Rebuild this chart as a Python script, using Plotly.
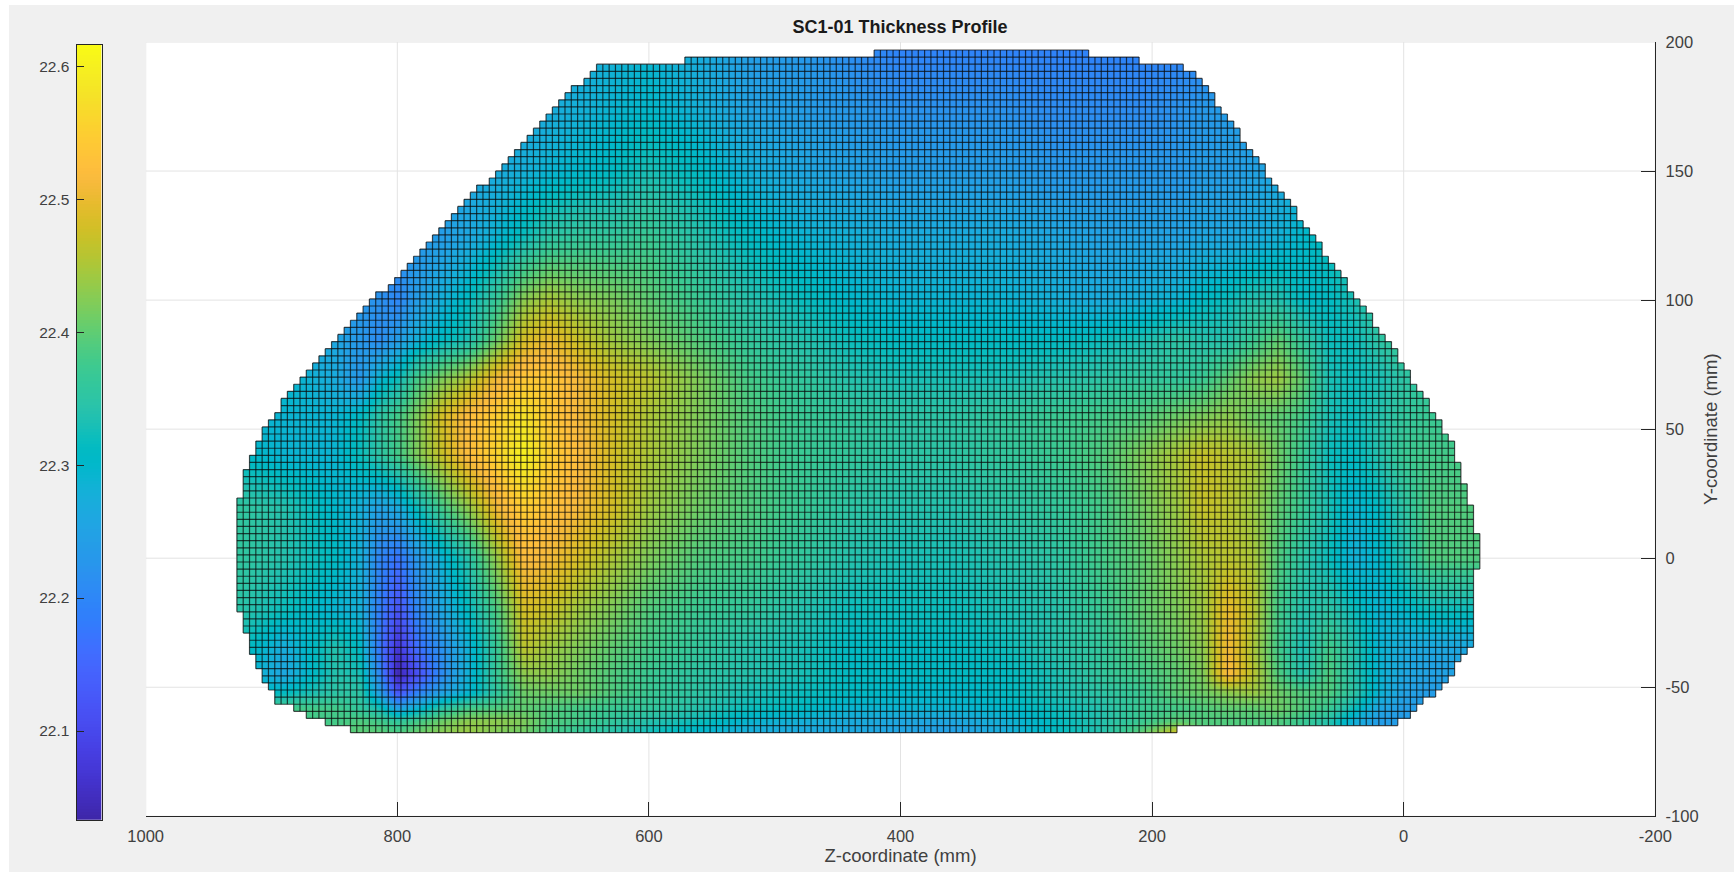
import plotly.graph_objects as go

# ---------- data ----------
x_nodes = [930, 890, 850, 830, 815, 800, 785, 765, 745, 720, 700, 680, 655, 630, 600, 560, 520, 480, 440, 400,
           360, 320, 280, 240, 210, 180, 160, 140, 120, 100, 80, 60, 40, 20, 0, -20, -40, -65]
y_nodes = [200, 175, 150, 125, 100, 85, 70, 55, 40, 20, 0, -20, -35, -45, -52, -58, -63, -68]

z_200 = [22.27,22.27,22.27,22.27,22.27,22.27,22.27,22.27,22.27,22.26,22.26,22.26,22.27,22.28,22.29,22.27,22.24,22.23,22.21,22.19,22.19,22.19,22.19,22.19,22.19,22.19,22.20,22.21,22.22,22.24,22.26,22.28,22.30,22.31,22.31,22.31,22.31,22.31]
z_175 = [22.25,22.25,22.25,22.25,22.25,22.25,22.25,22.25,22.25,22.26,22.26,22.27,22.28,22.29,22.30,22.28,22.25,22.24,22.23,22.22,22.22,22.22,22.21,22.21,22.21,22.22,22.23,22.24,22.24,22.25,22.27,22.29,22.31,22.31,22.31,22.31,22.31,22.31]
z_150 = [22.25,22.25,22.25,22.25,22.25,22.25,22.25,22.25,22.26,22.27,22.28,22.29,22.30,22.31,22.33,22.31,22.28,22.26,22.25,22.24,22.24,22.24,22.23,22.23,22.23,22.23,22.24,22.24,22.25,22.26,22.28,22.31,22.33,22.33,22.33,22.33,22.33,22.33]
z_125 = [22.23,22.23,22.23,22.23,22.23,22.23,22.23,22.24,22.26,22.29,22.32,22.35,22.36,22.36,22.37,22.34,22.31,22.29,22.28,22.27,22.27,22.27,22.26,22.25,22.25,22.25,22.26,22.26,22.27,22.28,22.30,22.32,22.35,22.35,22.35,22.35,22.35,22.35]
z_100 = [22.24,22.24,22.24,22.23,22.22,22.20,22.24,22.28,22.31,22.37,22.43,22.45,22.43,22.42,22.40,22.37,22.34,22.32,22.30,22.29,22.29,22.29,22.28,22.27,22.28,22.29,22.31,22.32,22.34,22.34,22.31,22.31,22.33,22.36,22.36,22.36,22.36,22.36]
z_85  = [22.27,22.27,22.26,22.23,22.21,22.24,22.28,22.31,22.33,22.41,22.48,22.50,22.47,22.44,22.42,22.39,22.36,22.34,22.32,22.31,22.31,22.31,22.31,22.32,22.33,22.35,22.34,22.34,22.37,22.40,22.36,22.32,22.32,22.35,22.37,22.37,22.37,22.37]
z_70  = [22.30,22.30,22.27,22.23,22.29,22.32,22.38,22.42,22.45,22.51,22.54,22.54,22.51,22.48,22.46,22.42,22.38,22.36,22.34,22.33,22.33,22.33,22.34,22.35,22.36,22.36,22.37,22.40,22.43,22.44,22.40,22.33,22.32,22.33,22.35,22.36,22.36,22.36]
z_55  = [22.29,22.29,22.29,22.31,22.35,22.38,22.42,22.48,22.52,22.55,22.58,22.54,22.51,22.48,22.45,22.42,22.39,22.37,22.36,22.35,22.35,22.36,22.37,22.38,22.39,22.41,22.42,22.43,22.41,22.40,22.38,22.33,22.32,22.34,22.36,22.37,22.37,22.37]
z_40  = [22.31,22.29,22.29,22.32,22.35,22.38,22.42,22.47,22.52,22.56,22.60,22.55,22.52,22.48,22.45,22.42,22.39,22.37,22.36,22.35,22.35,22.36,22.37,22.39,22.42,22.45,22.47,22.46,22.45,22.41,22.37,22.32,22.31,22.34,22.37,22.38,22.38,22.38]
z_20  = [22.36,22.34,22.30,22.28,22.25,22.27,22.32,22.38,22.43,22.51,22.55,22.53,22.51,22.48,22.44,22.41,22.39,22.37,22.35,22.34,22.34,22.35,22.36,22.38,22.41,22.44,22.47,22.46,22.44,22.40,22.37,22.33,22.29,22.31,22.35,22.39,22.39,22.39]
z_0   = [22.36,22.34,22.31,22.28,22.20,22.17,22.23,22.29,22.34,22.44,22.52,22.51,22.48,22.45,22.42,22.39,22.38,22.36,22.34,22.33,22.33,22.34,22.35,22.38,22.40,22.43,22.45,22.46,22.45,22.39,22.35,22.32,22.28,22.30,22.34,22.39,22.39,22.39]
z_m20 = [22.35,22.32,22.29,22.28,22.19,22.12,22.20,22.26,22.31,22.39,22.48,22.47,22.44,22.42,22.39,22.37,22.36,22.34,22.32,22.32,22.32,22.33,22.34,22.37,22.40,22.42,22.44,22.50,22.46,22.38,22.34,22.35,22.32,22.29,22.30,22.32,22.32,22.32]
z_m35 = [22.33,22.27,22.34,22.31,22.18,22.07,22.16,22.22,22.28,22.37,22.46,22.44,22.42,22.40,22.38,22.36,22.34,22.33,22.31,22.31,22.31,22.32,22.34,22.36,22.39,22.41,22.43,22.51,22.45,22.38,22.33,22.38,22.34,22.29,22.27,22.26,22.26,22.26]
z_m45 = [22.31,22.26,22.34,22.33,22.21,22.04,22.11,22.21,22.28,22.37,22.43,22.43,22.41,22.39,22.37,22.35,22.34,22.33,22.31,22.31,22.31,22.31,22.33,22.36,22.38,22.40,22.42,22.52,22.46,22.39,22.34,22.39,22.34,22.29,22.26,22.25,22.25,22.25]
z_m52 = [22.31,22.31,22.35,22.35,22.25,22.12,22.19,22.25,22.29,22.36,22.41,22.41,22.41,22.39,22.37,22.35,22.33,22.32,22.31,22.30,22.30,22.31,22.33,22.35,22.37,22.40,22.41,22.43,22.44,22.41,22.39,22.39,22.35,22.29,22.25,22.24,22.24,22.24]
z_m58 = [22.38,22.38,22.38,22.36,22.33,22.25,22.29,22.35,22.38,22.39,22.40,22.39,22.38,22.37,22.36,22.34,22.32,22.31,22.29,22.29,22.29,22.30,22.32,22.34,22.37,22.38,22.39,22.40,22.40,22.41,22.39,22.37,22.32,22.26,22.24,22.24,22.24,22.24]
z_m63 = [22.38,22.38,22.38,22.39,22.38,22.36,22.38,22.41,22.43,22.43,22.42,22.39,22.38,22.36,22.34,22.32,22.29,22.28,22.27,22.26,22.26,22.28,22.31,22.34,22.37,22.40,22.39,22.39,22.39,22.39,22.37,22.34,22.28,22.24,22.24,22.24,22.24,22.24]
z_m68 = [22.39,22.39,22.39,22.40,22.40,22.39,22.41,22.43,22.44,22.42,22.41,22.38,22.36,22.34,22.32,22.29,22.27,22.26,22.26,22.25,22.24,22.27,22.31,22.34,22.40,22.49,22.39,22.39,22.39,22.39,22.37,22.34,22.28,22.24,22.24,22.24,22.24,22.24]
z_rows = [z_200, z_175, z_150, z_125, z_100, z_85, z_70, z_55, z_40, z_20, z_0, z_m20, z_m35, z_m45, z_m52, z_m58, z_m63, z_m68]

# first and one-past-last column of every grid row (top to bottom)
row_first = [101,71,57,56,55,53,52,51,50,49,48,47,46,45,44,43,42,41,40,38,37,36,35,34,33,32,31,30,29,28,27,26,25,24,22,21,20,19,18,17,16,15,14,13,12,11,10,9,8,7,7,6,5,4,4,3,3,2,2,1,1,1,1,
             0,0,0,0,0,0,0,0,0,0,0,0,0,0,0,0,1,1,1,2,2,2,3,3,4,4,5,6,6,9,11,14,18]
row_last = [135,143,150,152,153,154,155,155,156,157,158,159,159,160,161,162,163,163,164,165,166,167,168,168,169,170,171,172,172,173,174,175,176,176,177,178,179,180,180,181,182,183,184,184,185,186,186,187,188,189,189,190,191,191,192,
            193,193,193,194,194,194,195,195,195,196,196,196,196,197,197,197,197,197,196,196,196,196,196,196,196,196,196,196,196,195,194,193,193,192,191,190,188,187,186,184,149]

grid_left, grid_right = 927.5, -60.5
grid_top, grid_bottom = 196.9, -67.6
n_cols, n_rows = 197, 96

x_ticks = [1000, 800, 600, 400, 200, 0, -200]
x_tick_text = ["1000", "800", "600", "400", "200", "0", "-200"]
y_ticks = [-100, -50, 0, 50, 100, 150, 200]
y_tick_text = ["-100", "-50", "0", "50", "100", "150", "200"]
cbar_ticks = [22.1, 22.2, 22.3, 22.4, 22.5, 22.6]
cbar_tick_text = ["22.1", "22.2", "22.3", "22.4", "22.5", "22.6"]
z_min, z_max = 22.0333, 22.6162

parula = [[0.2422,0.1504,0.6603],[0.2504,0.1650,0.7076],[0.2578,0.1818,0.7511],[0.2647,0.1978,0.7952],[0.2706,0.2147,0.8364],[0.2751,0.2342,0.8710],[0.2783,0.2559,0.8991],[0.2803,0.2782,0.9221],[0.2813,0.3006,0.9414],[0.2810,0.3228,0.9579],[0.2795,0.3447,0.9717],[0.2760,0.3667,0.9829],[0.2699,0.3892,0.9906],[0.2602,0.4123,0.9952],[0.2440,0.4358,0.9988],[0.2206,0.4603,0.9973],[0.1963,0.4847,0.9892],[0.1834,0.5074,0.9798],[0.1786,0.5289,0.9682],[0.1764,0.5499,0.9520],[0.1687,0.5703,0.9359],[0.1540,0.5902,0.9218],[0.1460,0.6091,0.9079],[0.1380,0.6276,0.8973],[0.1248,0.6459,0.8883],[0.1113,0.6635,0.8763],[0.0952,0.6798,0.8598],[0.0689,0.6948,0.8394],[0.0297,0.7082,0.8163],[0.0036,0.7203,0.7917],[0.0067,0.7312,0.7660],[0.0433,0.7411,0.7394],[0.0964,0.7500,0.7120],[0.1408,0.7584,0.6842],[0.1717,0.7670,0.6554],[0.1938,0.7758,0.6251],[0.2161,0.7843,0.5923],[0.2470,0.7918,0.5567],[0.2906,0.7973,0.5188],[0.3406,0.8008,0.4789],[0.3909,0.8029,0.4354],[0.4456,0.8024,0.3909],[0.5044,0.7993,0.3480],[0.5616,0.7942,0.3045],[0.6174,0.7876,0.2612],[0.6720,0.7793,0.2227],[0.7242,0.7698,0.1910],[0.7738,0.7598,0.1646],[0.8203,0.7498,0.1535],[0.8634,0.7406,0.1596],[0.9035,0.7330,0.1774],[0.9393,0.7288,0.2100],[0.9728,0.7298,0.2394],[0.9956,0.7434,0.2371],[0.9970,0.7659,0.2199],[0.9952,0.7893,0.2028],[0.9892,0.8136,0.1885],[0.9786,0.8386,0.1766],[0.9676,0.8639,0.1643],[0.9610,0.8890,0.1537],[0.9597,0.9135,0.1423],[0.9628,0.9373,0.1265],[0.9691,0.9606,0.1064],[0.9769,0.9839,0.0805]]
colorscale = [[i / 63, "rgb(%d,%d,%d)" % tuple(round(c * 255) for c in col)] for i, col in enumerate(parula)]

W, H = 1734, 872
FONT = "Liberation Sans, Arial, sans-serif"


def xe(k):
    return grid_left + (grid_right - grid_left) * k / n_cols


def ye(r):
    return grid_top + (grid_bottom - grid_top) * r / n_rows


fig = go.Figure()

# smooth colour field
fig.add_trace(go.Heatmap(x=x_nodes[::-1], y=y_nodes[::-1], z=[row[::-1] for row in z_rows[::-1]],
                         zmin=z_min, zmax=z_max, colorscale=colorscale, zsmooth="best",
                         showscale=False, hoverinfo="skip"))

# white surround that leaves the stair-stepped outline of the specimen
mx = [1000, -200, -200, 1000, 1000]
my = [200, 200, -100, -100, 200]
for r in range(n_rows):
    mx += [xe(row_first[r]), xe(row_first[r])]
    my += [ye(r), ye(r + 1)]
for r in range(n_rows - 1, -1, -1):
    mx += [xe(row_last[r]), xe(row_last[r])]
    my += [ye(r + 1), ye(r)]
mx += [xe(row_first[0]), 1000]
my += [ye(0), 200]
fig.add_trace(go.Scatter(x=mx, y=my, mode="lines", fill="toself", fillcolor="white",
                         line=dict(width=0, color="white"), hoverinfo="skip", showlegend=False))

# light grid lines, only where the cells do not cover them
gx, gy = [], []
for h in y_ticks:
    rows = [r for r in range(n_rows) if ye(r + 1) <= h < ye(r)]
    if rows:
        r = rows[0]
        gx += [1000, xe(row_first[r]), None, xe(row_last[r]), -200, None]
        gy += [h, h, None, h, h, None]
    else:
        gx += [1000, -200, None]
        gy += [h, h, None]
for v in x_ticks:
    rows = [r for r in range(n_rows) if xe(row_first[r]) >= v > xe(row_last[r])]
    if rows:
        gx += [v, v, None, v, v, None]
        gy += [200, ye(rows[0]), None, ye(rows[-1] + 1), -100, None]
    else:
        gx += [v, v, None]
        gy += [200, -100, None]
fig.add_trace(go.Scatter(x=gx, y=gy, mode="lines", line=dict(color="#e3e3e3", width=1),
                         hoverinfo="skip", showlegend=False, cliponaxis=False))

# cell edges
cx, cy = [], []
for r in range(n_rows + 1):
    a = [row_first[i] for i in (r - 1, r) if 0 <= i < n_rows]
    b = [row_last[i] for i in (r - 1, r) if 0 <= i < n_rows]
    cx += [xe(min(a)), xe(max(b)), None]
    cy += [ye(r), ye(r), None]
for k in range(n_cols + 1):
    rows = [r for r in range(n_rows) if row_first[r] <= k <= row_last[r]]
    cx += [xe(k), xe(k), None]
    cy += [ye(rows[0]), ye(rows[-1] + 1), None]
fig.add_trace(go.Scatter(x=cx, y=cy, mode="lines", line=dict(color="rgba(10,10,10,0.72)", width=1.2),
                         hoverinfo="skip", showlegend=False))

# colour bar on its own axes so that its labels sit on the left
levels = [z_min + (z_max - z_min) * i / 255 for i in range(256)]
fig.add_trace(go.Heatmap(x=[0], y=levels, z=[[v] for v in levels], zmin=z_min, zmax=z_max,
                         colorscale=colorscale, showscale=False, hoverinfo="skip",
                         xaxis="x2", yaxis="y2"))

tick_font = dict(family=FONT, size=16.5, color="#404040")
cbar_font = dict(family=FONT, size=15.5, color="#404040")
label_font = dict(family=FONT, size=18.5, color="#404040")
fig.update_layout(
    width=W, height=H, autosize=False,
    margin=dict(l=0, r=0, t=0, b=0),
    paper_bgcolor="#F0F0F0", plot_bgcolor="white",
    showlegend=False,
    title=dict(text="<b>SC1-01 Thickness Profile</b>", x=900 / W, y=1 - 27 / H, xanchor="center", yanchor="middle",
               font=dict(family=FONT, size=18, color="#1a1a1a")),
    xaxis=dict(domain=[145.7 / W, 1655.3 / W], range=[1000, -200], anchor="y", side="bottom",
               tickmode="array", tickvals=x_ticks, ticktext=x_tick_text, ticks="inside", ticklen=14,
               tickcolor="#262626", tickfont=tick_font, showgrid=False, zeroline=False, ticklabelstandoff=5,
               showline=True, linecolor="#262626", linewidth=1, automargin=False, fixedrange=True,
               title=dict(text="Z-coordinate (mm)", font=label_font, standoff=4)),
    yaxis=dict(domain=[1 - 816.3 / H, 1 - 42 / H], range=[-100, 200], anchor="x", side="right",
               tickmode="array", tickvals=y_ticks, ticktext=y_tick_text, ticks="inside", ticklen=14,
               tickcolor="#262626", tickfont=tick_font, showgrid=False, zeroline=False, ticklabelstandoff=6,
               showline=True, linecolor="#262626", linewidth=1, automargin=False, fixedrange=True,
               title=dict(text="Y-coordinate (mm)", font=label_font, standoff=6)),
    xaxis2=dict(domain=[76.5 / W, 101.7 / W], range=[-0.5, 0.5], anchor="y2", showticklabels=False,
                ticks="", showgrid=False, zeroline=False, showline=True, mirror=True,
                linecolor="#262626", linewidth=1, fixedrange=True),
    yaxis2=dict(domain=[1 - 819.7 / H, 1 - 44.7 / H], range=[z_min, z_max], anchor="x2", side="left",
                tickmode="array", tickvals=cbar_ticks, ticktext=cbar_tick_text, ticks="inside", ticklen=7,
                tickcolor="#262626", tickfont=cbar_font, showgrid=False, zeroline=False, showline=True,
                ticklabelstandoff=3,
                mirror=True, linecolor="#262626", linewidth=1, fixedrange=True, automargin=False),
    shapes=[
        dict(type="rect", xref="paper", yref="paper", x0=0, x1=9 / W, y0=0, y1=1, layer="below",
             fillcolor="white", line=dict(width=0)),
        dict(type="rect", xref="paper", yref="paper", x0=0, x1=1, y0=1 - 5 / H, y1=1, layer="below",
             fillcolor="white", line=dict(width=0)),
    ],
)

fig.write_html("out.html", config={"displayModeBar": False},
               post_script="document.body.style.margin='0';document.body.style.overflow='hidden';")
